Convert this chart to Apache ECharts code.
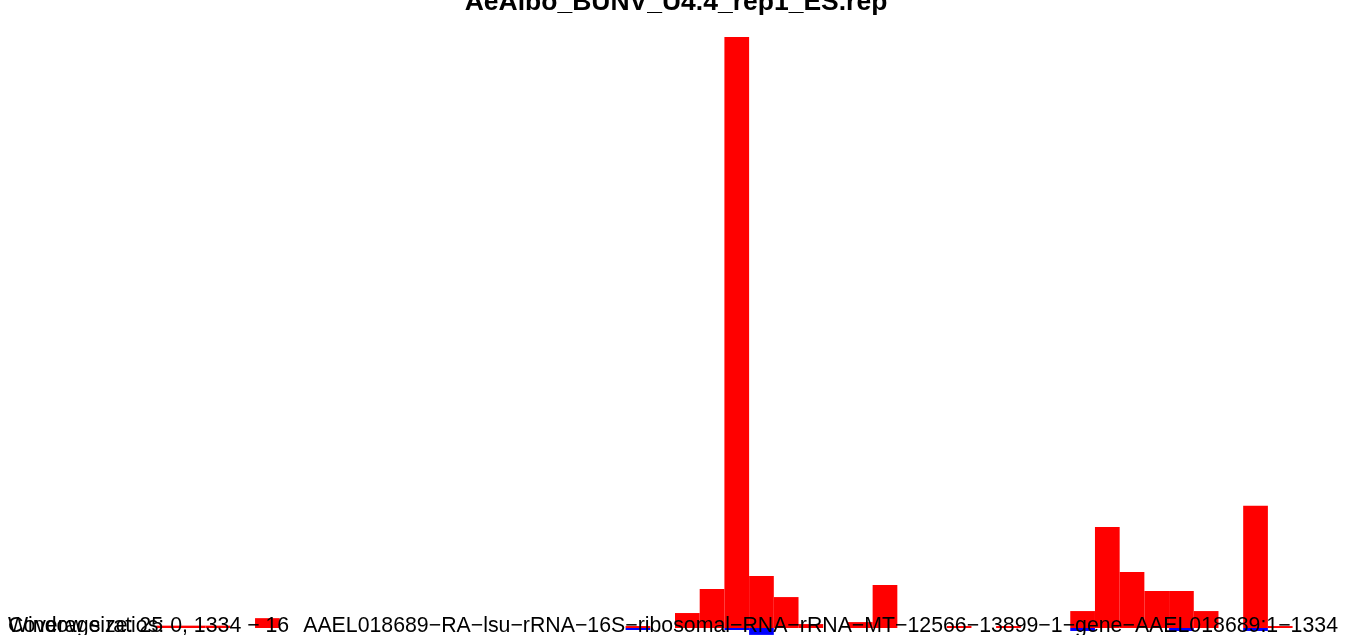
<!DOCTYPE html>
<html>
<head>
<meta charset="utf-8">
<script src="https://cdn.jsdelivr.net/npm/echarts@6/dist/echarts.min.js"></script>
<style>
html,body{margin:0;padding:0;background:#fff;}
#chart{width:1352px;height:635px;}
</style>
</head>
<body>
<div id="chart"></div>
<script>
var titleText = "AeAlbo_BUNV_U4.4_rep1_ES.rep";
var windowLabel = "Window size: 25";
var rangeLabel = "Coverage ratios: 0, 1334 \u2212 16";
var contigLabel = "AAEL018689\u2212RA\u2212lsu\u2212rRNA\u221216S\u2212ribosomal\u2212RNA\u2212rRNA\u2212MT\u221212566\u221213899\u22121\u2212gene\u2212AAEL018689:1\u22121334";

// bin start positions (window 25)
var bins = [];
for (var i = 0; i < 54; i++) bins.push(String(i * 25));

// red: positive strand counts per window
var redCounts = [0,0,0,0,0,0,1.2,1.2,1.2,0,
                 5,0,0,0,0,0,0,0,0,0,
                 0,0,0,0,0,1,0,7.6,19.8,300,
                 26.4,15.7,2,0,3,21.8,0,0,1,0,
                 1,0,0,8.6,51.3,28.4,18.8,18.8,8.6,0,
                 62,1,0,0];
// blue: negative strand counts per window
var blueCounts = [0,0,0,0,0,0,0,0,0,0,
                  0,0,0,0,0,0,0,0,0,0,
                  0,0,0,0,0,-1,0,0,0,-1,
                  -3.5,0,0,0,0,0,0,0,0,0,
                  0,0,0,-1.5,0,0,0,-1.5,0,0,
                  -1.5,0,0,0];

function dropZeros(arr) { return arr.map(function (v) { return v === 0 ? '-' : v; }); }

var font = '21.3px "Liberation Sans", Arial, sans-serif';
var chart = echarts.init(document.getElementById('chart'));
chart.setOption({
  animation: false,
  backgroundColor: '#ffffff',
  grid: {left: 8, right: 10, top: 37, bottom: 0, containLabel: false},
  xAxis: {type: 'category', data: bins, show: false},
  yAxis: {type: 'value', min: -3.55, max: 300, show: false, splitLine: {show: false}},
  series: [
    {type: 'bar', name: 'plus', data: dropZeros(redCounts), barCategoryGap: '0%', barGap: '-100%', barWidth: '100%',
     itemStyle: {color: '#ff0000'}, silent: true},
    {type: 'bar', name: 'minus', data: dropZeros(blueCounts), barCategoryGap: '0%', barGap: '-100%', barWidth: '100%',
     itemStyle: {color: '#0000ff'}, silent: true}
  ],
  graphic: [
    {type: 'text', z: 100, left: 'center', top: -11, style: {text: titleText, font: 'bold 26.5px "Liberation Sans", Arial, sans-serif', fill: '#000'}},
    {type: 'text', z: 100, left: 8, top: 616, style: {text: windowLabel, font: font, fill: '#000'}},
    {type: 'text', z: 100, left: 8, top: 616, style: {text: rangeLabel, font: font, fill: '#000'}},
    {type: 'text', z: 100, right: 14, top: 616, style: {text: contigLabel, font: font, fill: '#000'}}
  ]
});
</script>
</body>
</html>
